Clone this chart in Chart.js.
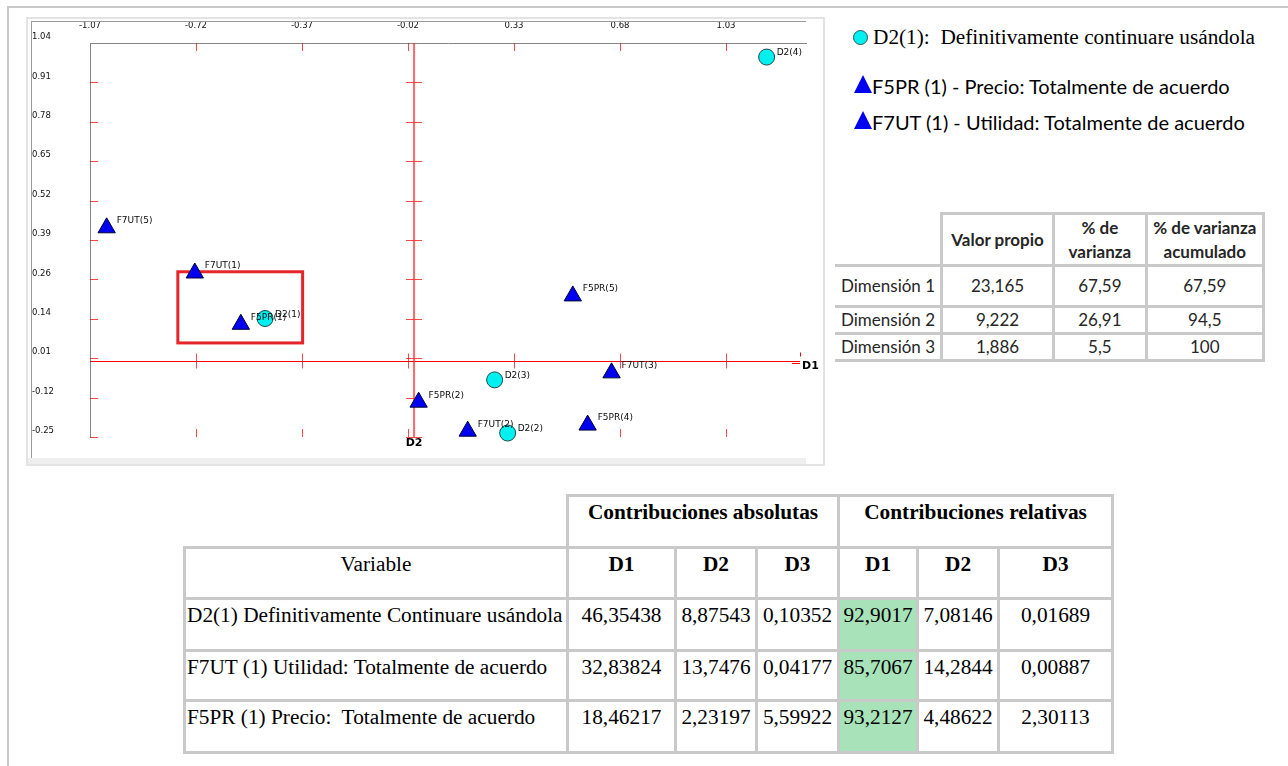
<!DOCTYPE html>
<html lang="es">
<head>
<meta charset="utf-8">
<title>Análisis de correspondencias múltiples</title>
<script src="https://cdn.jsdelivr.net/npm/chart.js@4.4.1/dist/chart.umd.min.js"></script>
<style>
  html, body { margin: 0; padding: 0; background: #fff; }
  body { width: 1288px; height: 766px; position: relative; overflow: hidden; }
  .frame-top { position: absolute; left: 7px; top: 6px; width: 1281px; height: 2px; background: #c9c9c9; }
  .frame-left { position: absolute; left: 7px; top: 6px; width: 2px; height: 760px; background: #c9c9c9; }
  .panel { position: absolute; left: 26px; top: 17px; width: 795px; height: 445px; border: 2px solid #e3e3e3; background: #fff; }
  .panel-band { position: absolute; left: 28px; top: 458px; width: 778px; height: 6px; background: #efefef; }
  .panel-line-top { position: absolute; left: 31px; top: 21px; width: 775px; height: 1px; background: #9c9c9c; }
  .panel-line-left { position: absolute; left: 31px; top: 21px; width: 1px; height: 437px; background: #9c9c9c; }
  #chartBox { position: absolute; left: 0; top: 0; width: 830px; height: 470px; }

  .legend-dot { position: absolute; left: 853px; top: 30px; width: 13px; height: 13px; border-radius: 50%; background: #00f0f0; border: 1px solid #2b5656; }
  .legend-tri { position: absolute; left: 854px; width: 0; height: 0; border-left: 9px solid transparent; border-right: 9px solid transparent; border-bottom: 18px solid #0000f0; }
  .legend-text { position: absolute; white-space: pre; color: #000; line-height: 24px; }
  .serif { font-family: "Liberation Serif", "Times New Roman", serif; font-size: 21.3px; }
  .sans { font-family: Lato, "Open Sans", sans-serif; font-size: 20px; }

  table { border-collapse: collapse; table-layout: fixed; position: absolute; }
  td { padding: 0; overflow: hidden; white-space: pre; }

  #eigen { left: 835px; top: 212px; font-family: Lato, "Open Sans", sans-serif; font-size: 17px; color: #262626; }
  #eigen td { border: 3px solid #c9c9c9; text-align: center; vertical-align: middle; line-height: 24px; }
  #eigen td.rowhead { border-left: none; text-align: left; padding-left: 6px; }
  #eigen td.blank { border: none; }
  #eigen td.head { font-weight: bold; }

  #contrib { left: 183px; top: 494px; font-family: "Liberation Serif", "Times New Roman", serif; font-size: 21.3px; color: #000; }
  #contrib td { border: 3px solid #c9c9c9; text-align: center; vertical-align: top; line-height: 24px; padding-top: 3px; }
  #contrib td.blank { border: none; }
  #contrib td.bold { font-weight: bold; }
  #contrib td.var { text-align: left; padding-left: 1px; }
  #contrib td.hl { background: #a8e2b9; }
</style>
</head>
<body>
<div class="frame-top"></div>
<div class="frame-left"></div>
<div class="panel"></div>
<div class="panel-band"></div>
<div class="panel-line-top"></div>
<div class="panel-line-left"></div>
<canvas id="chartBox" width="830" height="470"></canvas>

<div class="legend-dot"></div>
<div class="legend-text serif" style="left:873px; top:25px;">D2(1):  Definitivamente continuare usándola</div>
<div class="legend-tri" style="top:75px;"></div>
<div class="legend-text sans" style="left:872px; top:74px;">F5PR (1) - Precio: Totalmente de acuerdo</div>
<div class="legend-tri" style="top:111px;"></div>
<div class="legend-text sans" style="left:872px; top:110px;">F7UT (1) - Utilidad: Totalmente de acuerdo</div>

<table id="eigen"></table>
<table id="contrib"></table>

<script>
// Axis tick labels (D1 along the top, D2 along the left side)
const xTickLabels = ['-1.07', '-0.72', '-0.37', '-0.02', '0.33', '0.68', '1.03'];
const yTickLabels = ['-0.25', '-0.12', '0.01', '0.14', '0.26', '0.39', '0.52', '0.65', '0.78', '0.91', '1.04'];
const xMin = -1.07, xMax = 1.294;
const yMin = -0.25, yMax = 1.04;

// Categories of "D2" (intención de seguir usándola)
const circleNames = ['D2(1)', 'D2(2)', 'D2(3)', 'D2(4)'];
const circleD1 = [-0.492, 0.309, 0.266, 1.164];
const circleD2 = [0.138, -0.237, -0.063, 0.994];

// Categories of F5PR (precio) and F7UT (utilidad)
const triangleNames = ['F5PR(1)', 'F5PR(2)', 'F5PR(4)', 'F5PR(5)', 'F7UT(1)', 'F7UT(2)', 'F7UT(3)', 'F7UT(5)'];
const triangleD1 = [-0.572, 0.015, 0.573, 0.524, -0.724, 0.177, 0.652, -1.015];
const triangleD2 = [0.119, -0.136, -0.211, 0.212, 0.287, -0.231, -0.040, 0.435];

// Highlighted group of associated categories
const highlightD1 = [-0.780, -0.368];
const highlightD2 = [0.058, 0.291];

// Eigenvalue table
const eigenHeaders = [['Valor propio'], ['% de', 'varianza'], ['% de varianza', 'acumulado']];
const dimensionNames = ['Dimensión 1', 'Dimensión 2', 'Dimensión 3'];
const eigenValues = ['23,165', '9,222', '1,886'];
const variancePct = ['67,59', '26,91', '5,5'];
const cumulativePct = ['67,59', '94,5', '100'];

// Contributions table
const contribVariables = [
  'D2(1) Definitivamente Continuare usándola',
  'F7UT (1) Utilidad: Totalmente de acuerdo',
  'F5PR (1) Precio:  Totalmente de acuerdo'
];
const absD1 = ['46,35438', '32,83824', '18,46217'];
const absD2 = ['8,87543', '13,7476', '2,23197'];
const absD3 = ['0,10352', '0,04177', '5,59922'];
const relD1 = ['92,9017', '85,7067', '93,2127'];
const relD2 = ['7,08146', '14,2844', '4,48622'];
const relD3 = ['0,01689', '0,00887', '2,30113'];

// ---------- tables ----------
function cell(tr, text, cls, extra) {
  const td = document.createElement('td');
  if (cls) td.className = cls;
  if (Array.isArray(text)) td.innerHTML = text.map(t => t.replace(/&/g, '&amp;').replace(/</g, '&lt;')).join('<br>');
  else td.textContent = text;
  if (extra) Object.assign(td, extra);
  tr.appendChild(td);
  return td;
}

(function buildEigen() {
  const t = document.getElementById('eigen');
  const cg = document.createElement('colgroup');
  [106, 112, 92, 117].forEach(w => { const c = document.createElement('col'); c.style.width = w + 'px'; cg.appendChild(c); });
  t.appendChild(cg);
  t.style.width = (106 + 112 + 92 + 117 + 3) + 'px';
  const heights = [52, 41, 27, 26];
  const h = t.insertRow(); h.style.height = heights[0] + 'px';
  cell(h, '', 'blank');
  eigenHeaders.forEach(lines => cell(h, lines, 'head'));
  dimensionNames.forEach((name, i) => {
    const r = t.insertRow(); r.style.height = heights[i + 1] + 'px';
    cell(r, name, 'rowhead');
    cell(r, eigenValues[i]);
    cell(r, variancePct[i]);
    cell(r, cumulativePct[i]);
  });
})();

(function buildContrib() {
  const t = document.getElementById('contrib');
  const widths = [383, 108, 81, 82, 79, 81, 114];
  const cg = document.createElement('colgroup');
  widths.forEach(w => { const c = document.createElement('col'); c.style.width = w + 'px'; cg.appendChild(c); });
  t.appendChild(cg);
  t.style.width = (widths.reduce((a, b) => a + b, 0) + 3) + 'px';
  const heights = [52, 51, 52, 50, 52];
  const r0 = t.insertRow(); r0.style.height = heights[0] + 'px';
  cell(r0, '', 'blank');
  cell(r0, 'Contribuciones absolutas', 'bold', { colSpan: 3 });
  cell(r0, 'Contribuciones relativas', 'bold', { colSpan: 3 });
  const r1 = t.insertRow(); r1.style.height = heights[1] + 'px';
  cell(r1, 'Variable');
  ['D1', 'D2', 'D3', 'D1', 'D2', 'D3'].forEach(d => cell(r1, d, 'bold'));
  contribVariables.forEach((name, i) => {
    const r = t.insertRow(); r.style.height = heights[i + 2] + 'px';
    cell(r, name, 'var');
    cell(r, absD1[i]); cell(r, absD2[i]); cell(r, absD3[i]);
    cell(r, relD1[i], 'hl'); cell(r, relD2[i]); cell(r, relD3[i]);
  });
})();

// ---------- factorial map ----------
const redTick = 'rgba(255,0,0,0.72)';

const crossAxes = {
  id: 'crossAxes',
  beforeDatasetsDraw(chart) {
    const { ctx, chartArea: a, scales: { x, y } } = chart;
    const x0 = x.getPixelForValue(0);
    const y0 = Math.round(y.getPixelForValue(0)) + 0.5;
    ctx.save();

    // highlighted region
    ctx.strokeStyle = '#e6252b';
    ctx.lineWidth = 3;
    const hx1 = x.getPixelForValue(highlightD1[0]), hx2 = x.getPixelForValue(highlightD1[1]);
    const hy1 = y.getPixelForValue(highlightD2[1]), hy2 = y.getPixelForValue(highlightD2[0]);
    ctx.strokeRect(hx1, hy1, hx2 - hx1, hy2 - hy1);

    // tick marks on the frame and on both zero axes
    ctx.strokeStyle = redTick;
    ctx.lineWidth = 1;
    ctx.beginPath();
    x.ticks.forEach((t, i) => {
      if (i === 0) return;
      const px = Math.round(x.getPixelForValue(t.value)) + 0.5;
      ctx.moveTo(px, a.top); ctx.lineTo(px, a.top + 8);
      ctx.moveTo(px, y0 - 8); ctx.lineTo(px, y0 + 7);
      ctx.moveTo(px, a.bottom - 8); ctx.lineTo(px, a.bottom);
    });
    y.ticks.forEach((t, i) => {
      if (i === y.ticks.length - 1) return;
      const py = Math.round(y.getPixelForValue(t.value)) + 0.5;
      ctx.moveTo(a.left, py); ctx.lineTo(a.left + 8, py);
      ctx.moveTo(x0 - 8, py); ctx.lineTo(x0 + 8, py);
    });
    ctx.stroke();

    // zero axes
    ctx.strokeStyle = '#ff0000';
    ctx.lineWidth = 1;
    ctx.beginPath();
    ctx.moveTo(a.left, y0); ctx.lineTo(a.right - 6, y0);
    ctx.moveTo(a.right - 14, y0 + 2); ctx.lineTo(a.right - 6, y0 + 2);
    ctx.moveTo(a.right - 5.5, y0 - 9); ctx.lineTo(a.right - 5.5, y0 - 5);
    ctx.stroke();
    ctx.strokeStyle = 'rgba(255,40,40,0.7)';
    ctx.lineWidth = 2;
    ctx.beginPath();
    ctx.moveTo(x0, a.top); ctx.lineTo(x0, a.bottom);
    ctx.stroke();
    ctx.restore();
  },
  afterDatasetsDraw(chart) {
    const { ctx, chartArea: a, scales: { x, y } } = chart;
    ctx.save();
    ctx.font = '9px "DejaVu Sans"';
    ctx.fillStyle = '#0a0a0a';
    ctx.textBaseline = 'middle';
    ctx.textAlign = 'left';
    chart.data.datasets.forEach((ds, di) => {
      const meta = chart.getDatasetMeta(di);
      meta.data.forEach((pt, i) => {
        ctx.fillText(ds.names[i], pt.x + 10, pt.y + ds.labelDy);
      });
    });
    // axis names
    ctx.font = 'bold 11px "DejaVu Sans"';
    ctx.fillStyle = '#000';
    const y0 = y.getPixelForValue(0);
    const x0 = x.getPixelForValue(0);
    ctx.fillText('D1', a.right - 4, y0 + 5);
    ctx.textAlign = 'center';
    ctx.fillText('D2', x0, a.bottom + 6);
    ctx.restore();
  }
};

const tickFont = { family: 'DejaVu Sans', size: 8.5 };

new Chart(document.getElementById('chartBox'), {
  type: 'scatter',
  data: {
    datasets: [
      {
        label: 'D2',
        names: circleNames,
        labelDy: -4,
        data: circleD1.map((v, i) => ({ x: v, y: circleD2[i] })),
        pointStyle: 'circle',
        pointRadius: 8,
        pointBackgroundColor: '#00f0f0',
        pointBorderColor: '#1f4a4a',
        pointBorderWidth: 1,
        clip: false
      },
      {
        label: 'F5PR / F7UT',
        names: triangleNames,
        labelDy: -7,
        data: triangleD1.map((v, i) => ({ x: v, y: triangleD2[i] })),
        pointStyle: 'triangle',
        pointRadius: 10,
        pointBackgroundColor: '#0000f0',
        pointBorderColor: '#00003a',
        pointBorderWidth: 1,
        clip: false
      }
    ]
  },
  options: {
    responsive: false,
    animation: false,
    devicePixelRatio: 1,
    events: [],
    layout: { padding: { left: 32, top: 22, right: 24, bottom: 33 } },
    plugins: { legend: { display: false }, tooltip: { enabled: false } },
    scales: {
      x: {
        type: 'linear',
        position: 'top',
        min: xMin,
        max: xMax,
        afterBuildTicks: s => { s.ticks = xTickLabels.map(t => ({ value: parseFloat(t) })); },
        afterFit: s => { s.height = 21; },
        ticks: {
          callback: (v, i) => xTickLabels[i],
          font: tickFont,
          color: '#111',
          padding: 12,
          maxRotation: 0,
          autoSkip: false
        },
        grid: { display: false, drawTicks: false },
        border: { display: true, color: '#858585', width: 1 }
      },
      y: {
        type: 'linear',
        min: yMin,
        max: yMax,
        afterBuildTicks: s => {
          s.ticks = yTickLabels.map((t, i) => ({ value: yMin + i * (yMax - yMin) / (yTickLabels.length - 1) }));
        },
        afterFit: s => { s.width = 58; },
        ticks: {
          callback: (v, i) => yTickLabels[i],
          font: tickFont,
          color: '#111',
          crossAlign: 'far',
          labelOffset: -6,
          autoSkip: false
        },
        grid: { display: false, drawTicks: false },
        border: { display: true, color: '#858585', width: 1 }
      }
    }
  },
  plugins: [crossAxes]
});
</script>
</body>
</html>
